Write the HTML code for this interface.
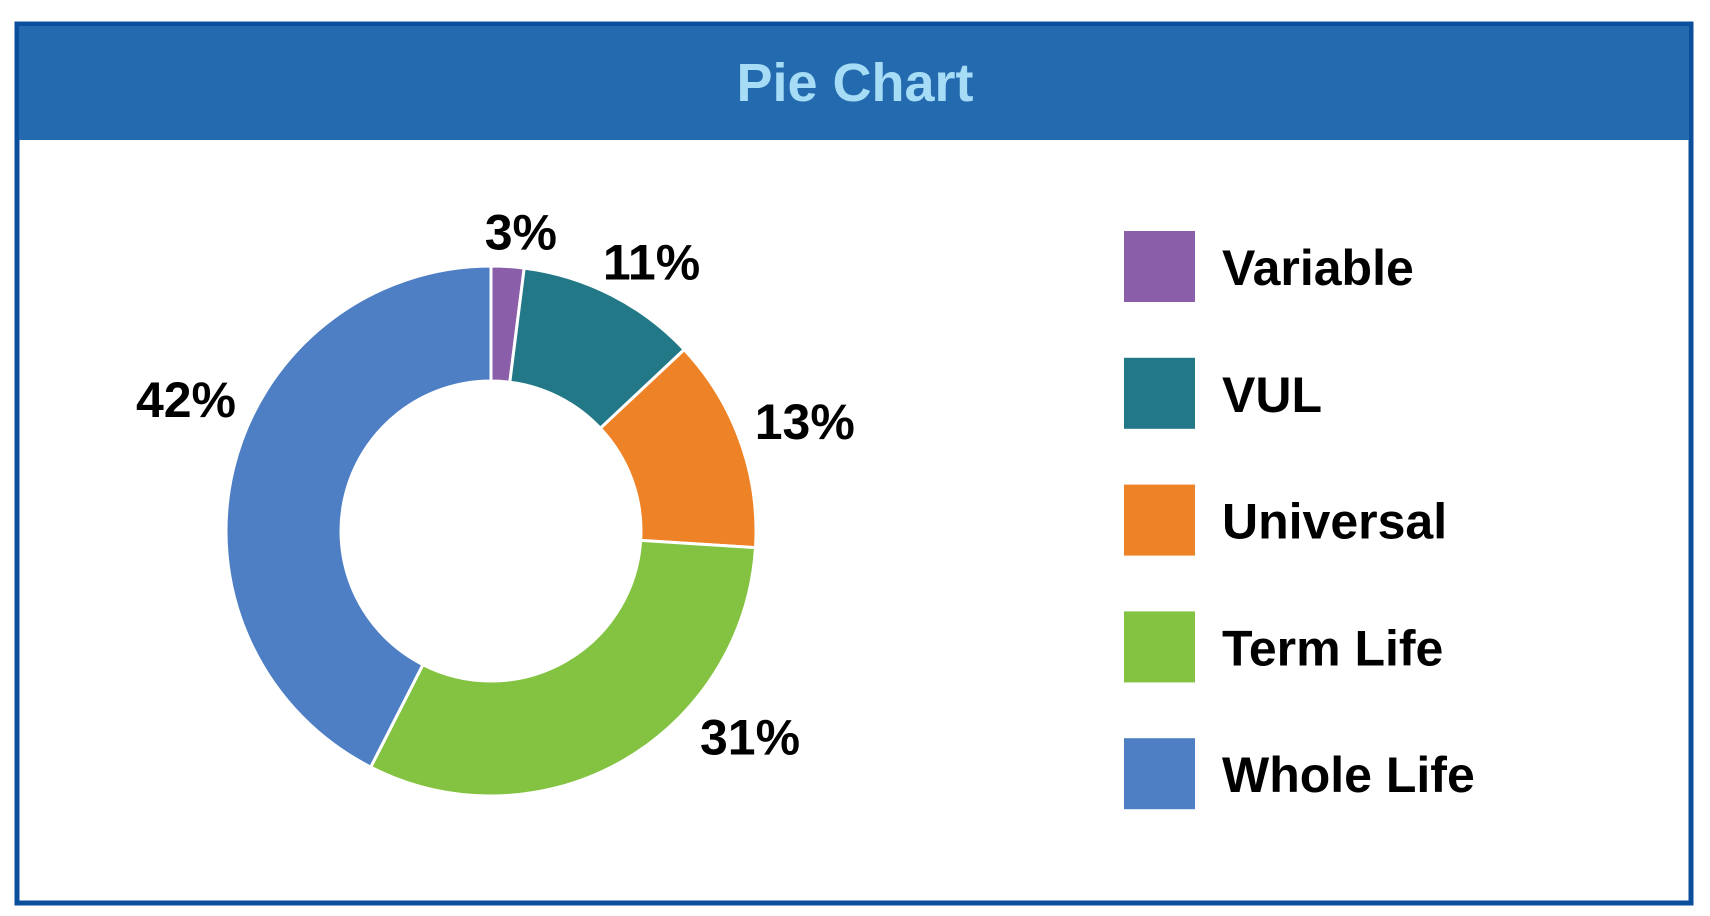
<!DOCTYPE html>
<html><head><meta charset="utf-8"><style>
html,body{margin:0;padding:0;background:#fff;width:1710px;height:916px;overflow:hidden;font-family:"Liberation Sans",sans-serif;}
</style></head><body>
<svg width="1710" height="916">
<rect x="17" y="24" width="1674" height="879" fill="#fff" stroke="#0b4f9c" stroke-width="5"/>
<rect x="19" y="26" width="1670" height="114" fill="#236aae"/>
<text x="855" y="101" text-anchor="middle" font-size="54" font-weight="bold" fill="#a6dcf6">Pie Chart</text>
<g id="donut"></g>
<g id="legend"></g>
</svg>
<script>
const categories = ["Variable","VUL","Universal","Term Life","Whole Life"];
const values = [2, 11, 13, 31.5, 42.5];
const valueLabels = ["3%","11%","13%","31%","42%"];
const colors = ["#8a5ea8","#227886","#ee8226","#84c341","#4e7ec3"];
const NS="http://www.w3.org/2000/svg";
const cx=491, cy=531, R=265, r=150;
const labelShiftX=[11,13,8,98,11], labelShiftY=[0,20,0,-77,-56];
const total=values.reduce((a,b)=>a+b,0);
const donut=document.getElementById('donut');
function pt(a,rad){return [cx+rad*Math.sin(a), cy-rad*Math.cos(a)];}
let acc=0;
values.forEach((v,i)=>{
  const a0=acc/total*2*Math.PI; acc+=v; const a1=acc/total*2*Math.PI;
  const large=(a1-a0)>Math.PI?1:0;
  const p0=pt(a0,R),p1=pt(a1,R),q1=pt(a1,r),q0=pt(a0,r);
  const path=document.createElementNS(NS,'path');
  path.setAttribute('d',`M${p0[0]},${p0[1]} A${R},${R} 0 ${large} 1 ${p1[0]},${p1[1]} L${q1[0]},${q1[1]} A${r},${r} 0 ${large} 0 ${q0[0]},${q0[1]} Z`);
  path.setAttribute('fill',colors[i]);
  path.setAttribute('stroke','#fff');
  path.setAttribute('stroke-width','3');
  
  
  donut.appendChild(path);
  const am=(a0+a1)/2;
  const lp=pt(am, i===0?300:325);
  const t=document.createElementNS(NS,'text');
  t.setAttribute('x',lp[0]+labelShiftX[i]); t.setAttribute('y',lp[1]+18+labelShiftY[i]);
  t.setAttribute('text-anchor','middle'); t.setAttribute('font-size','50');
  t.setAttribute('font-weight','bold'); t.setAttribute('fill','#000');
  t.textContent=valueLabels[i];
  
  
  donut.appendChild(t);
});
const legend=document.getElementById('legend');
categories.forEach((c,i)=>{
  const y=231+i*126.8;
  const sw=document.createElementNS(NS,'rect');
  sw.setAttribute('x',1124); sw.setAttribute('y',y); sw.setAttribute('width',71); sw.setAttribute('height',71);
  sw.setAttribute('fill',colors[i]);
  
  
  legend.appendChild(sw);
  const t=document.createElementNS(NS,'text');
  t.setAttribute('x',1222); t.setAttribute('y',y+54);
  t.setAttribute('font-size','50'); t.setAttribute('font-weight','bold'); t.setAttribute('fill','#000');
  t.textContent=c;
  
  
  legend.appendChild(t);
});
</script>
</body></html>
